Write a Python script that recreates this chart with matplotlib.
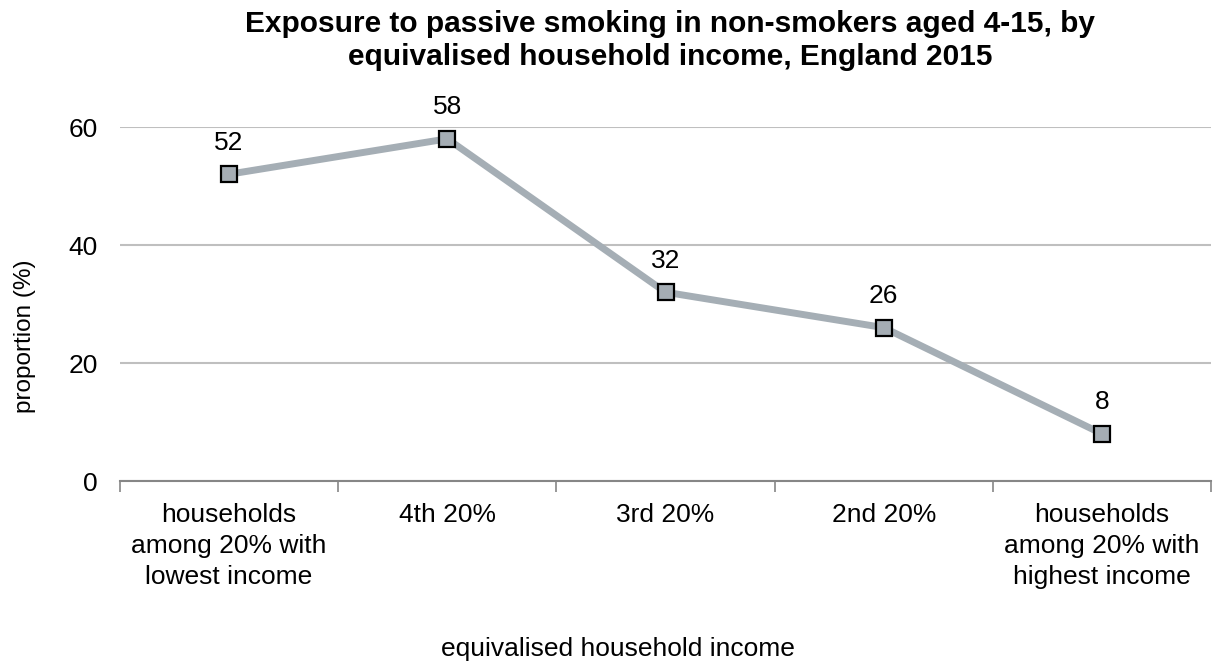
import numpy as np
import matplotlib.pyplot as plt

plt.rcParams['font.family'] = ['Liberation Sans', 'DejaVu Sans']

# Income quintiles and share exposed to passive smoking (%)
categories = [
    "households\namong 20% with\nlowest income",
    "4th 20%",
    "3rd 20%",
    "2nd 20%",
    "households\namong 20% with\nhighest income",
]
proportion = [52, 58, 32, 26, 8]
y_ticks = [0, 20, 40, 60]

fig = plt.figure(figsize=(12.16, 6.64), dpi=100)
ax = fig.add_axes([0.0987, 0.2756, 0.8972, 0.5331])

x = np.arange(len(categories))
ax.plot(x, proportion, color='#A5AEB5', linewidth=5, solid_capstyle='butt',
        marker='s', markersize=11, markerfacecolor='#A5ADB4',
        markeredgecolor='black', markeredgewidth=1.6, zorder=3, clip_on=False)

for xi, v in zip(x, proportion):
    ax.annotate(f"{v}", (xi, v), xytext=(0, 14), textcoords='offset points',
                ha='center', va='bottom', fontsize=19, color='black')

ax.set_xlim(-0.5, len(categories) - 0.5)
ax.set_ylim(0, 60)
ax.set_yticks(y_ticks)
ax.yaxis.grid(True, color='#BFBFBF', linewidth=1.5)
ax.set_axisbelow(True)

# category labels between boundary tick marks
ax.set_xticks(x)
ax.set_xticklabels(categories, fontsize=19, linespacing=1.35)
ax.tick_params(axis='x', which='major', length=0, pad=16)
ax.set_xticks(np.arange(-0.5, len(categories), 1), minor=True)
ax.tick_params(axis='x', which='minor', length=8, width=1.2, color='#868686')
ax.tick_params(axis='y', length=0, labelsize=19, pad=16)

for side in ['top', 'right', 'left']:
    ax.spines[side].set_visible(False)
ax.spines['bottom'].set_color('#868686')
ax.spines['bottom'].set_linewidth(1.5)

ax.set_ylabel("proportion (%)", fontsize=17.5)
ax.yaxis.set_label_coords(-0.077, 0.41)
fig.text(0.508, 0.005, "equivalised household income", ha='center', va='bottom',
         fontsize=19)
fig.suptitle("Exposure to passive smoking in non-smokers aged 4-15, by\n"
             "equivalised household income, England 2015",
             x=0.551, y=0.985, fontsize=21.5, fontweight='bold', linespacing=1.25)

fig.savefig('out.png', dpi=100)
